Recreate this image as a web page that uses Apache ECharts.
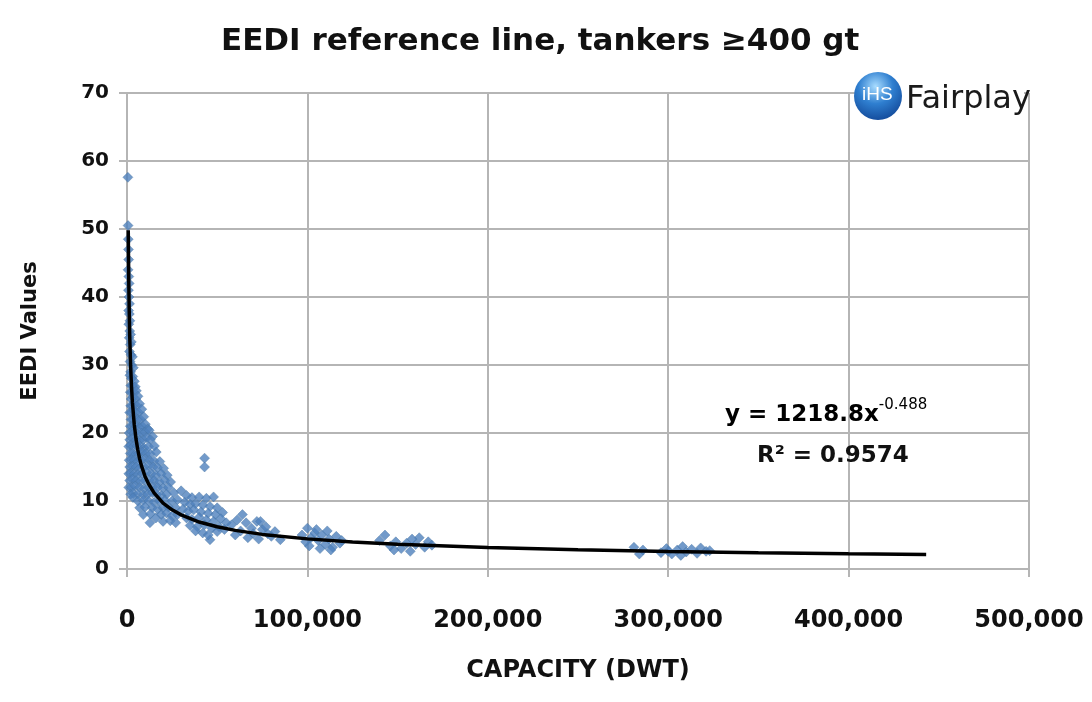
<!DOCTYPE html>
<html>
<head>
<meta charset="utf-8">
<script src="https://cdn.jsdelivr.net/npm/echarts@6/dist/echarts.min.js"></script>
<style>
html,body{margin:0;padding:0;background:#fff;}
#chart{width:1092px;height:702px;}
</style>
</head>
<body>
<div id="chart"></div>
<script>
// ---- Data ----
const titleText = 'EEDI reference line, tankers \u2265400 gt';
const xAxisName = 'CAPACITY (DWT)';
const yAxisName = 'EEDI Values';
const xTicks = [0, 100000, 200000, 300000, 400000, 500000];
const yTicks = [0, 10, 20, 30, 40, 50, 60, 70];

// [DWT, EEDI] by size group
const smallShips = [
  [500,57.6],[600,50.5],[700,48.5],[800,47],[900,45.5],[600,44],[1000,43],[1200,42],[800,41],[1100,40],
  [1400,39],[900,38],[1300,37.5],[1600,36.5],[1000,36],[1500,35],[2000,34.5],[1200,34],[1800,33],[2400,33.4],
  [1400,32],[2200,31.5],[3000,31.2],[1700,30.5],[2600,30],[3500,29.6],[2000,29],[1600,28.5],[3200,28.3],[2500,28],
  [4100,27.6],[2100,27],[3000,27],[4600,26.8],[1800,26],[2700,26],[3800,26],[5200,26.2],[2300,25],[3300,25.3],
  [4800,25],[6100,25.4],[2000,24],[3000,24],[4200,24.2],[5500,24],[7000,24.3],[1500,23],[2600,23],[3600,23.4],
  [5000,23],[6500,23],[8200,23.5],[2200,22],[3200,22],[4500,22.3],[6000,22],[7500,22],[9300,22.4],[1800,21],
  [2800,21],[4000,21.2],[5200,21],[7000,20.8],[8500,21],[10200,21.3],[11500,20.6]
];
const coastalShips = [
  [1200,20],[2500,20.2],[4000,20],[6000,19.8],[8000,20],[10000,20.1],[12300,20.4],[14200,19.5],
  [1500,19],[3000,19.2],[5000,19],[7000,18.9],[9000,19],[11000,19.3],[13000,19],
  [1000,18],[2000,18.2],[3500,18],[5500,18.1],[7500,18],[9500,17.8],[12000,18],[15200,18.1],
  [1800,17],[3000,17],[4500,16.8],[6500,17],[8500,17.2],[10500,17],[13000,16.9],[16200,17.2],
  [1200,16],[2500,16.1],[4000,16],[6000,15.8],[8000,16],[10000,16.2],[12500,16],[15000,15.9],[18200,15.8],
  [1500,15],[3000,15.1],[5000,15],[7000,14.8],[9500,15],[12000,15.2],[14500,15],[17000,14.9],[20300,14.8],
  [1000,14],[2000,14.1],[4000,14],[6000,13.9],[8500,14],[11000,14.2],[13500,14],[16000,13.8],[19000,14],[22300,13.8],
  [1500,13],[3000,13.2],[5000,13],[7500,12.9],[10000,13],[12500,13.1],[15000,13],[18000,12.8],[21000,13],[24200,12.8],
  [1000,12],[2500,12],[4500,12.2],[7000,12],[9500,11.8],[12000,12],[14500,12.1],[17000,12],[20000,11.9],[23000,12],
  [2000,11],[3500,11.1],[6000,11],[9000,10.9],[11500,11],[14000,11.2],[16500,11],[19000,10.8],[22000,11],[26000,11.2],
  [3300,10.5],[6000,10],[9000,10.1],[12000,10],[15000,9.8],[18000,10],[21000,10.1],[25000,10],[28000,10.2],
  [7000,9],[10000,9.1],[14000,9],[17000,8.8],[20000,9],[23000,9.1],[27000,9],
  [12700,6.8],[9000,8],[13000,8.1],[16000,7.5],[19000,8],[22000,8.2],[25000,7.8],[28000,8],
  [20000,7],[24000,7.1],[27000,6.8]
];
const handyShips = [
  [30000,11.5],[33000,10.8],[36000,10.5],[40000,10.6],[44000,10.4],[48000,10.6],[32000,9.8],[35000,9.5],
  [38000,9.6],[42000,9.4],[46000,9.2],[50000,9.0],[31000,8.8],[34000,8.5],[37000,8.7],[41000,8.4],
  [45000,8.2],[49000,8.0],[53000,8.3],[33000,7.5],[36000,7.3],[40000,7.6],[44000,7.2],[48000,7.0],
  [52000,7.4],[55000,6.8],[35000,6.4],[39000,6.2],[43000,6.5],[47000,6.0],[51000,6.2],[54000,5.8],
  [38000,5.6],[42000,5.3],[46000,4.3],[50000,5.5],[45000,5.0],[43000,16.3],[43000,15.0]
];
const panamaxShips = [
  [58000,6.5],[61000,7.2],[64000,8.0],[66000,6.8],[69000,6.0],[72000,7.0],[74000,7.0],[75000,5.8],
  [70000,5.2],[63000,5.6],[78000,5.2],[80000,4.8],[67000,4.6],[73000,4.4],[85000,4.3],[82000,5.5],
  [60000,5.0],[77000,6.2]
];
const aframaxShips = [
  [97000,5.0],[100000,6.0],[102000,4.6],[104000,5.3],[106000,4.2],[108000,5.0],[110000,3.6],[112000,4.4],
  [114000,3.2],[116000,4.8],[118000,3.8],[101000,3.4],[107000,3.0],[111000,5.6],[99000,4.0],[113000,2.8],
  [105000,5.8],[119000,4.2]
];
const suezmaxShips = [
  [140000,4.2],[143000,5.0],[146000,3.4],[149000,4.0],[152000,3.0],[155000,3.8],[157000,2.6],[160000,3.6],
  [162000,4.6],[165000,3.2],[167000,4.0],[169000,3.5],[148000,2.8],[158000,4.4]
];
const vlccShips = [
  [281000,3.2],[284000,2.2],[286000,2.8],[296000,2.4],[299000,3.0],[302000,2.2],[305000,2.8],[308000,3.3],
  [310000,2.5],[313000,2.9],[316000,2.3],[318000,3.1],[321000,2.6],[323000,2.7],[300000,2.6],[307000,2.0]
];

// Trend line y = 1218.8 x^-0.488 (values as shown on the chart)
const trendDwt  = [700,800,1000,1200,1500,2000,2500,3000,4000,5000,6000,7000,8000,10000,12000,15000,20000,25000,30000,40000,50000,60000,75000,100000,125000,150000,200000,250000,300000,350000,400000,443000];
const trendEedi = [49.8,46.7,41.9,38.3,34.3,29.9,26.8,24.5,21.3,19.1,17.5,16.2,15.2,13.6,12.5,11.2,9.70,8.70,7.96,6.91,6.21,5.68,5.09,4.43,3.97,3.63,3.15,2.83,2.59,2.40,2.25,2.14];
const equationText = 'y = 1218.8x';
const equationExp = '-0.488';
const r2Text = 'R\u00b2 = 0.9574';

// ---- Chart ----
const allPoints = [].concat(smallShips, coastalShips, handyShips, panamaxShips, aframaxShips, suezmaxShips, vlccShips);
const trendData = trendDwt.map((x, i) => [x, trendEedi[i]]);
const FONT = 'DejaVu Sans';
const gridColor = '#b5b5b5';

const chart = echarts.init(document.getElementById('chart'), null, {renderer: 'canvas'});
chart.setOption({
  animation: false,
  backgroundColor: '#ffffff',
  title: {
    text: titleText,
    left: 216,
    top: 21,
    textStyle: {fontFamily: FONT, fontWeight: 'bold', fontSize: 31, color: '#111'}
  },
  grid: {left: 127, right: 63, top: 93, bottom: 133},
  xAxis: {
    type: 'value',
    min: xTicks[0], max: xTicks[xTicks.length - 1], interval: xTicks[1] - xTicks[0],
    name: xAxisName, nameLocation: 'middle', nameGap: 90,
    nameTextStyle: {fontFamily: FONT, fontWeight: 'bold', fontSize: 24, color: '#111'},
    axisLine: {show: true, lineStyle: {color: gridColor, width: 2}},
    axisTick: {show: true, length: 8, lineStyle: {color: gridColor, width: 2}},
    splitLine: {show: true, lineStyle: {color: gridColor, width: 2}},
    axisLabel: {margin: 40, fontFamily: FONT, fontWeight: 'bold', fontSize: 24, color: '#111',
      formatter: v => v.toLocaleString('en-US')}
  },
  yAxis: {
    type: 'value',
    min: yTicks[0], max: yTicks[yTicks.length - 1], interval: yTicks[1] - yTicks[0],
    name: yAxisName, nameLocation: 'middle', nameGap: 86, nameRotate: 90,
    nameTextStyle: {fontFamily: FONT, fontWeight: 'bold', fontSize: 21, color: '#111'},
    axisLine: {show: true, lineStyle: {color: gridColor, width: 2}},
    axisTick: {show: true, length: 8, lineStyle: {color: gridColor, width: 2}},
    splitLine: {show: true, lineStyle: {color: gridColor, width: 2}},
    axisLabel: {margin: 18, fontFamily: FONT, fontWeight: 'bold', fontSize: 20, color: '#111'}
  },
  series: [
    {
      type: 'scatter',
      data: allPoints,
      symbol: 'diamond',
      symbolSize: 10,
      itemStyle: {color: '#4F81BD', borderColor: '#45729f', borderWidth: 0.5},
      z: 2
    },
    {
      type: 'line',
      data: trendData,
      showSymbol: false,
      smooth: false,
      lineStyle: {color: '#000', width: 3.5},
      z: 3
    }
  ],
  graphic: [
    {
      type: 'rect', z: 100,
      shape: {x: 856, y: 80, width: 168, height: 38},
      style: {fill: '#fff'}
    },
    {
      type: 'circle', z: 101,
      shape: {cx: 878, cy: 96, r: 24},
      style: {
        fill: new echarts.graphic.RadialGradient(0.45, 0.3, 0.8, [
          {offset: 0, color: '#a8dcff'},
          {offset: 0.45, color: '#2f7fd0'},
          {offset: 1, color: '#0d3f8f'}
        ])
      }
    },
    {
      type: 'text', z: 102,
      left: 862, top: 85,
      style: {text: 'iHS', fill: '#fff', font: '19px "Liberation Sans"'}
    },
    {
      type: 'text', z: 102,
      left: 906, top: 84,
      style: {text: 'Fairplay', fill: '#1a1a1a', font: '32px "DejaVu Sans"'}
    },
    {
      type: 'text', z: 102,
      left: 725, top: 398,
      style: {
        text: '{a|' + equationText + '}{s|' + equationExp + '}',
        rich: {
          a: {fontFamily: FONT, fontWeight: 'bold', fontSize: 23, color: '#111', verticalAlign: 'bottom'},
          s: {fontFamily: FONT, fontSize: 15, color: '#111', verticalAlign: 'top', padding: [0,0,14,0]}
        }
      }
    },
    {
      type: 'text', z: 102,
      left: 757, top: 445,
      style: {text: r2Text, fill: '#111', font: 'bold 23px "DejaVu Sans"'}
    }
  ]
});
</script>
</body>
</html>
